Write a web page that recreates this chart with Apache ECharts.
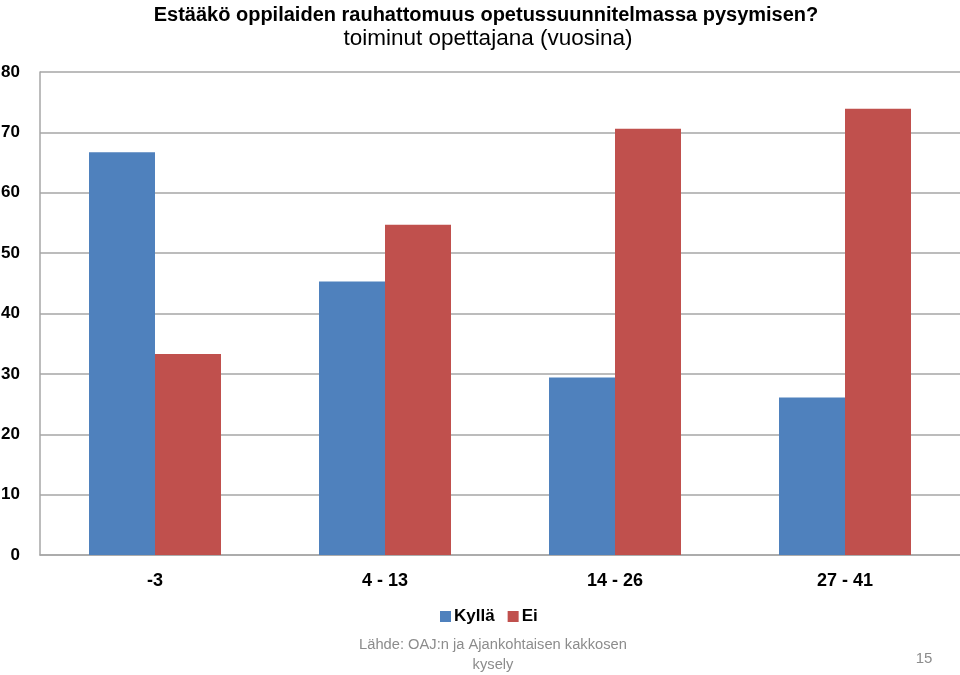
<!DOCTYPE html>
<html><head><meta charset="utf-8">
<script src="https://cdn.jsdelivr.net/npm/echarts@6/dist/echarts.min.js"></script>
<style>html,body{margin:0;padding:0;background:#fff}#c{width:960px;height:675px}</style>
</head><body><div id="c"></div>
<script>
const categories = ['-3', '4 - 13', '14 - 26', '27 - 41'];
const kylla = [66.7, 45.3, 29.4, 26.1];
const ei = [33.3, 54.7, 70.6, 73.9];
const yTicks = {min: 0, max: 80, interval: 10};
const FONT = "'Liberation Sans', sans-serif";

const chart = echarts.init(document.getElementById('c'));
chart.setOption({
  animation: false,
  textStyle: {fontFamily: FONT},
  title: [
    {text: 'Estääkö oppilaiden rauhattomuus opetussuunnitelmassa pysymisen?', left: 481, textAlign: 'center', top: 0,
     textStyle: {fontFamily: FONT, fontSize: 20, fontWeight: 'bold', color: '#000'}},
    {text: 'toiminut opettajana (vuosina)', left: 483, textAlign: 'center', top: 22,
     textStyle: {fontFamily: FONT, fontSize: 22.5, fontWeight: 'normal', color: '#000'}},
    {text: 'Lähde: OAJ:n ja Ajankohtaisen kakkosen\nkysely', left: 488, textAlign: 'center', top: 630,
     textStyle: {fontFamily: FONT, fontSize: 14.7, fontWeight: 'normal', color: '#8c8c8c', lineHeight: 20, align: 'center'}},
    {text: '15', left: 919, textAlign: 'center', top: 646,
     textStyle: {fontFamily: FONT, fontSize: 15, fontWeight: 'normal', color: '#8c8c8c'}}
  ],
  legend: {
    data: ['Kyllä', 'Ei'], top: 603, left: 435, itemWidth: 11, itemHeight: 11, itemGap: 13,
    icon: 'rect',
    textStyle: {fontFamily: FONT, fontSize: 17, fontWeight: 'bold', color: '#000', padding: [0, 0, 0, -2]}
  },
  grid: {left: 40, right: 0, top: 72, bottom: 120, containLabel: false, outerBoundsMode: 'none'},
  xAxis: {
    type: 'category', data: categories,
    axisLine: {lineStyle: {color: '#a6a6a6', width: 1.5}},
    axisTick: {show: false},
    axisLabel: {fontFamily: FONT, fontSize: 18, fontWeight: 'bold', color: '#000', margin: 17}
  },
  yAxis: {
    type: 'value', min: yTicks.min, max: yTicks.max, interval: yTicks.interval,
    axisLine: {show: true, lineStyle: {color: '#a6a6a6', width: 1.5}},
    axisTick: {show: false},
    splitLine: {lineStyle: {color: '#a6a6a6', width: 1.5}},
    axisLabel: {fontFamily: FONT, fontSize: 17, fontWeight: 'bold', color: '#000', margin: 20}
  },
  series: [
    {name: 'Kyllä', type: 'bar', data: kylla, barWidth: 66, barGap: '0%', itemStyle: {color: '#4F81BD'}},
    {name: 'Ei', type: 'bar', data: ei, barWidth: 66, barGap: '0%', itemStyle: {color: '#C0504D'}}
  ]
});
</script></body></html>
